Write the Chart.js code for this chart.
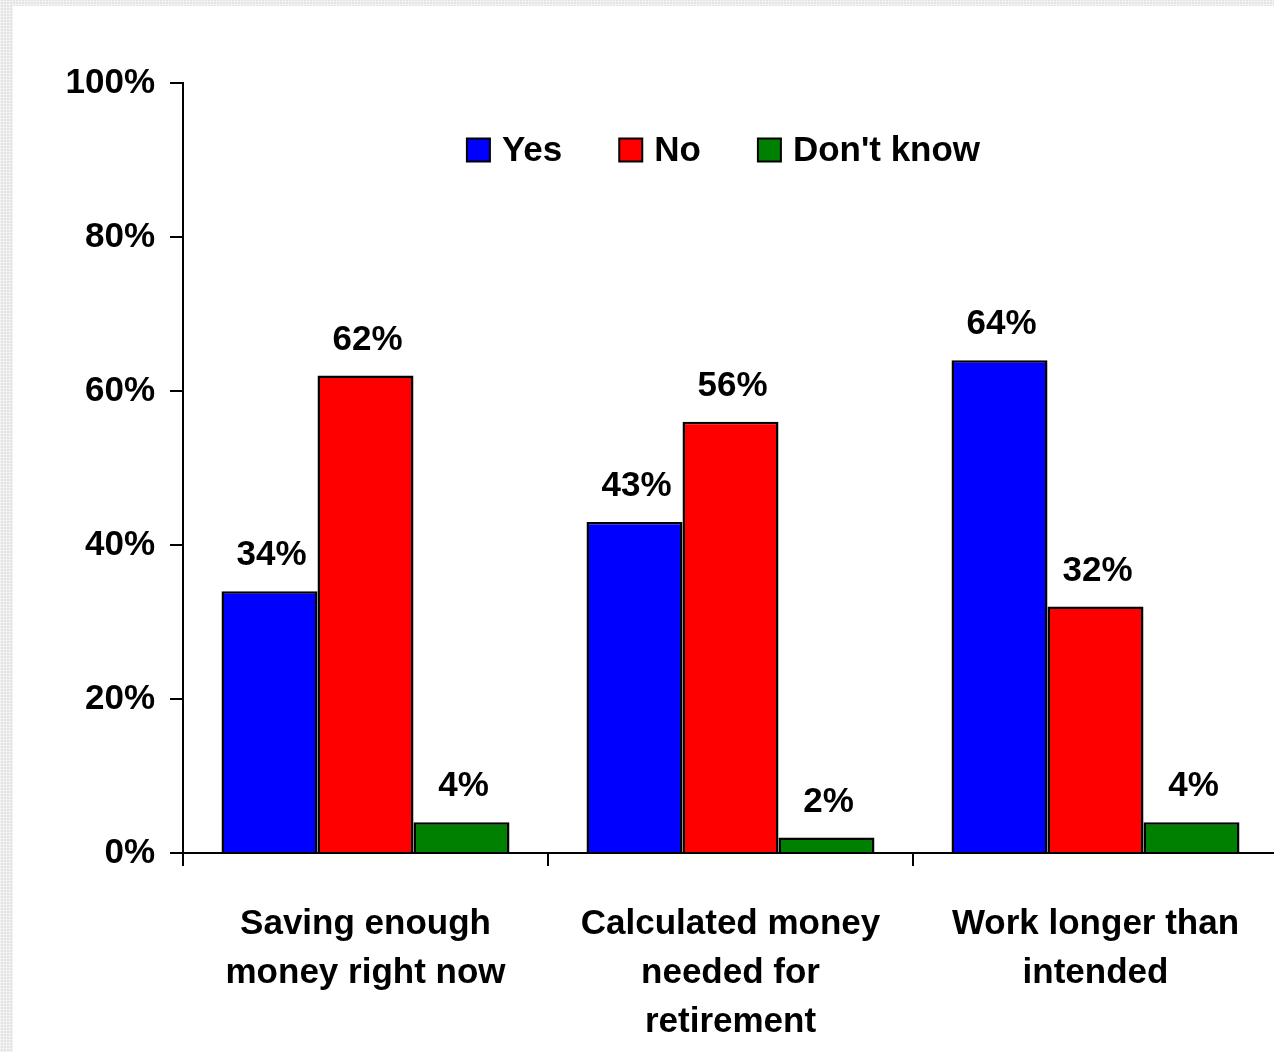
<!DOCTYPE html>
<html>
<head>
<meta charset="utf-8">
<script src="https://cdn.jsdelivr.net/npm/chart.js@4/dist/chart.umd.min.js"></script>
<style>
  html, body { margin: 0; padding: 0; width: 1274px; height: 1052px; overflow: hidden; }
  body {
    background-color: #e4e4e4;
    background-image:
      repeating-linear-gradient(0deg, rgba(255,255,255,0.45) 0 1px, transparent 1px 3px),
      repeating-linear-gradient(90deg, rgba(255,255,255,0.45) 0 1px, transparent 1px 3px);
  }
  #wrap { position: absolute; left: 13px; top: 6px; width: 1275px; height: 1046px; background: #fff; }
  canvas { display: block; }
</style>
</head>
<body>
<div id="wrap"><canvas id="c" width="1275" height="1046"></canvas></div>
<script>
// Survey answers, percent of respondents
const categories = [
  ['Saving enough', 'money right now'],
  ['Calculated money', 'needed for', 'retirement'],
  ['Work longer than', 'intended']
];
const seriesNames = ['Yes', 'No', "Don't know"];
const yesValues = [34, 43, 64];
const noValues = [62, 56, 32];
const dontKnowValues = [4, 2, 4];
const yTicks = [0, 20, 40, 60, 80, 100];

const FONT = '"Liberation Sans", Arial, sans-serif';
const FONT_SIZE = 35;
const colors = ['#0000ff', '#ff0000', '#008000'];

// value labels above every bar
const valueLabels = {
  id: 'valueLabels',
  afterDatasetsDraw(chart) {
    const ctx = chart.ctx;
    ctx.save();
    ctx.font = 'bold ' + FONT_SIZE + 'px ' + FONT;
    ctx.fillStyle = '#000';
    ctx.textAlign = 'center';
    ctx.textBaseline = 'alphabetic';
    chart.data.datasets.forEach((ds, i) => {
      chart.getDatasetMeta(i).data.forEach((bar, j) => {
        ctx.fillText(ds.data[j] + '%', bar.x + 2, bar.y - 26);
      });
    });
    ctx.restore();
  }
};

// horizontal legend drawn inside the plot area
const innerLegend = {
  id: 'innerLegend',
  afterDraw(chart) {
    const ctx = chart.ctx;
    const area = chart.chartArea;
    ctx.save();
    ctx.font = 'bold ' + FONT_SIZE + 'px ' + FONT;
    const box = 23, boxGap = 12, itemGap = 57;
    const items = chart.data.datasets.map(ds => ({
      label: ds.label, color: ds.backgroundColor, w: ctx.measureText(ds.label).width
    }));
    const total = items.reduce((s, it) => s + box + boxGap + it.w, 0) + itemGap * (items.length - 1);
    let x = (area.left + area.right) / 2 - 7 - total / 2;
    const cy = area.top + 67;
    items.forEach(it => {
      ctx.fillStyle = it.color;
      ctx.fillRect(x, cy - box / 2, box, box);
      ctx.lineWidth = 2;
      ctx.strokeStyle = '#000';
      ctx.strokeRect(x, cy - box / 2, box, box);
      ctx.fillStyle = '#000';
      ctx.textAlign = 'left';
      ctx.textBaseline = 'middle';
      ctx.fillText(it.label, x + box + boxGap, cy + 1);
      x += box + boxGap + it.w + itemGap;
    });
    ctx.restore();
  }
};

new Chart(document.getElementById('c'), {
  type: 'bar',
  data: {
    labels: categories,
    datasets: [
      { label: seriesNames[0], data: yesValues, backgroundColor: colors[0] },
      { label: seriesNames[1], data: noValues, backgroundColor: colors[1] },
      { label: seriesNames[2], data: dontKnowValues, backgroundColor: colors[2] }
    ].map(d => Object.assign(d, {
      borderColor: '#000', borderWidth: 2.5, borderSkipped: 'start',
      categoryPercentage: 0.789, barPercentage: 1.0
    }))
  },
  options: {
    responsive: false,
    animation: false,
    devicePixelRatio: 1,
    layout: { padding: { top: 77, right: 10, left: 0, bottom: 0 } },
    plugins: { legend: { display: false }, tooltip: { enabled: false } },
    scales: {
      y: {
        min: 0, max: 100,
        afterBuildTicks(scale) { scale.ticks = yTicks.map(v => ({ value: v })); },
        afterFit(scale) { scale.width = 170; },
        ticks: {
          callback: v => v + '%',
          font: { family: FONT, size: FONT_SIZE, weight: 'bold' },
          color: '#000', padding: 15
        },
        grid: { drawOnChartArea: false, drawTicks: true, tickLength: 13, color: '#000', lineWidth: 2 },
        border: { color: '#000', width: 2 }
      },
      x: {
        afterFit(scale) { scale.height = 199; },
        ticks: {
          font: { family: FONT, size: FONT_SIZE, weight: 'bold', lineHeight: '49px' },
          color: '#000', padding: 34, maxRotation: 0, autoSkip: false
        },
        grid: { offset: true, drawOnChartArea: false, drawTicks: true, tickLength: 13, color: '#000', lineWidth: 2 },
        border: { color: '#000', width: 2 }
      }
    }
  },
  plugins: [valueLabels, innerLegend]
});
</script>
</body>
</html>
